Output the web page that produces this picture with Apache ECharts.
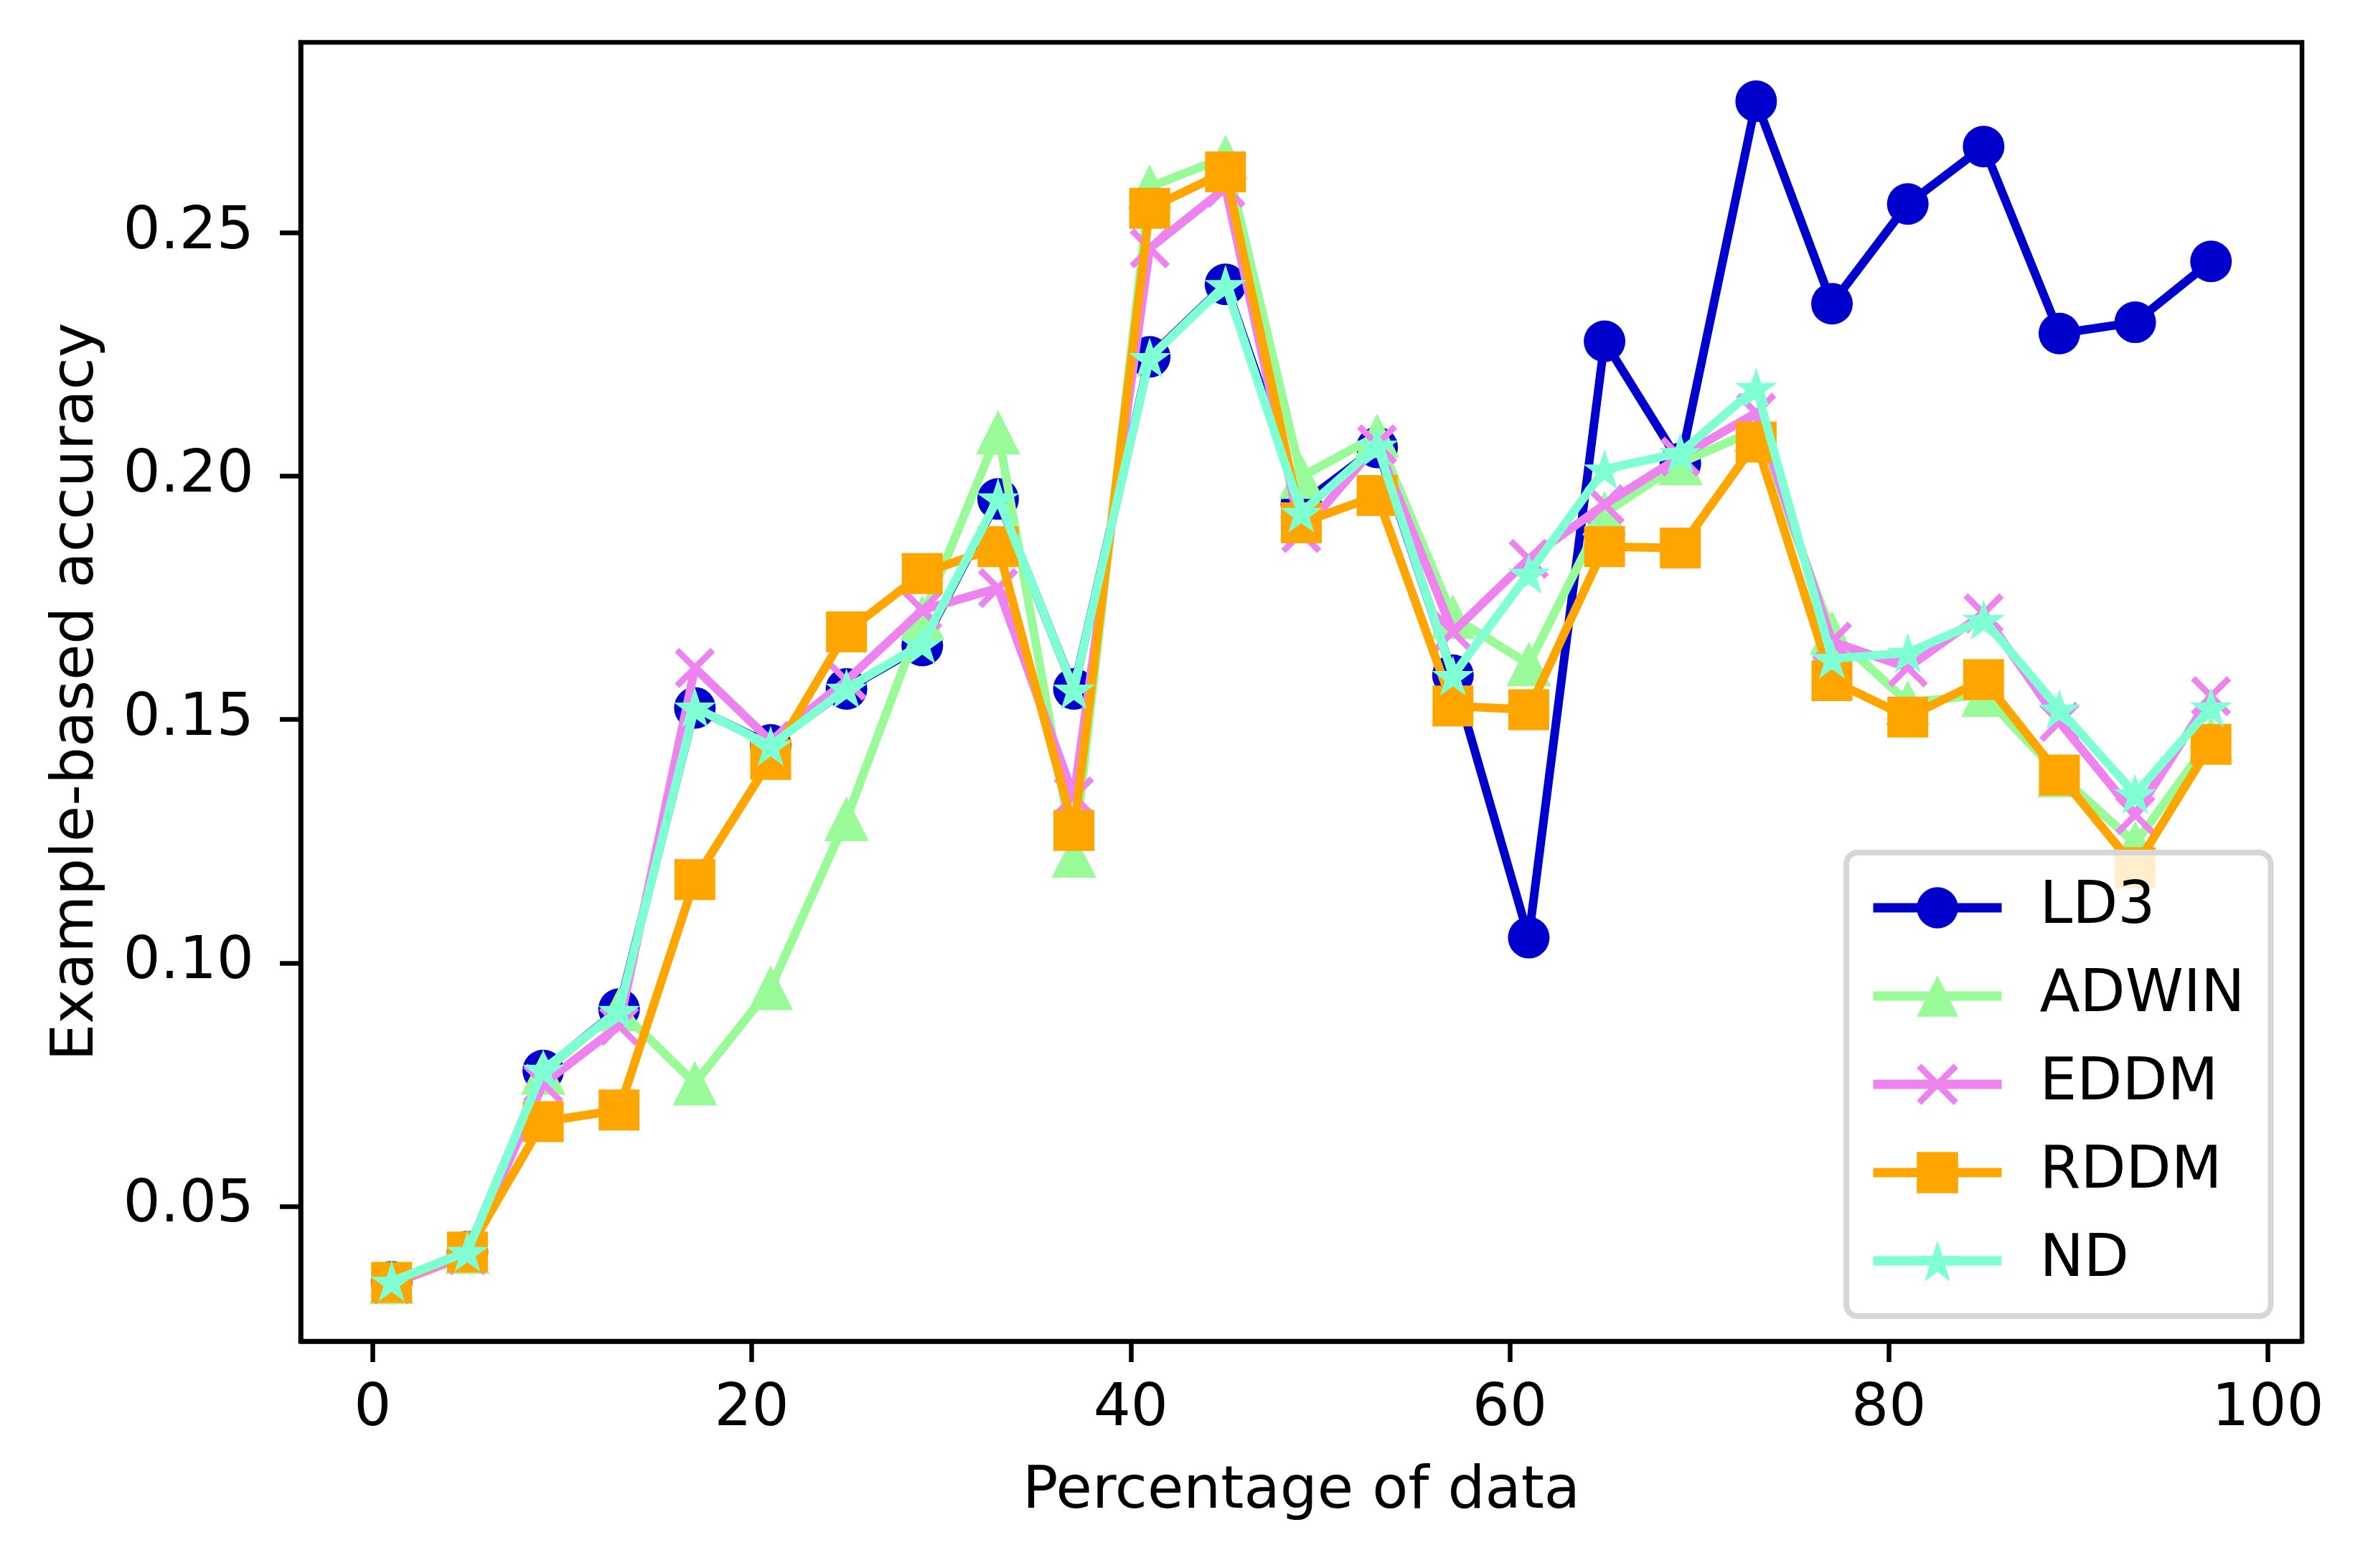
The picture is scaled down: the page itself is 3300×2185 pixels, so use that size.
<!DOCTYPE html>
<html>
<head>
<meta charset="utf-8">
<script src="https://cdn.jsdelivr.net/npm/echarts@6/dist/echarts.min.js"></script>
<style>
html,body{margin:0;padding:0;background:#fff;}
#chart{width:3300px;height:2185px;}
</style>
</head>
<body>
<div id="chart"></div>
<script>
// Percentage of data (x positions)
const percentages = [1, 5, 9, 13, 17, 21, 25, 29, 33, 37, 41, 45, 49, 53, 57, 61, 65, 69, 73, 77, 81, 85, 89, 93, 97];

// Example-based accuracy per method
const ld3   = [0.0345, 0.0407, 0.0779, 0.0905, 0.1524, 0.1448, 0.1563, 0.1652, 0.1953, 0.1563, 0.2245, 0.2394, 0.1942, 0.2059, 0.1591, 0.1052, 0.2277, 0.2026, 0.2770, 0.2354, 0.2559, 0.2677, 0.2293, 0.2316, 0.2441];
const adwin = [0.0345, 0.0407, 0.0775, 0.0905, 0.0753, 0.0949, 0.1296, 0.1710, 0.2090, 0.1221, 0.2594, 0.2655, 0.1999, 0.2083, 0.1711, 0.1614, 0.1924, 0.2027, 0.2095, 0.1678, 0.1535, 0.1551, 0.1386, 0.1246, 0.1460];
const eddm  = [0.0340, 0.0400, 0.0752, 0.0871, 0.1606, 0.1456, 0.1580, 0.1725, 0.1770, 0.1342, 0.2468, 0.2592, 0.1883, 0.2065, 0.1680, 0.1830, 0.1942, 0.2040, 0.2130, 0.1660, 0.1607, 0.1718, 0.1495, 0.1304, 0.1548];
const rddm  = [0.0344, 0.0406, 0.0674, 0.0698, 0.1171, 0.1418, 0.1680, 0.1800, 0.1855, 0.1272, 0.2550, 0.2625, 0.1904, 0.1960, 0.1528, 0.1520, 0.1855, 0.1852, 0.2070, 0.1580, 0.1505, 0.1582, 0.1386, 0.1196, 0.1449];
const nd    = [0.0346, 0.0407, 0.0781, 0.0902, 0.1525, 0.1446, 0.1564, 0.1655, 0.1955, 0.1562, 0.2243, 0.2393, 0.1925, 0.2063, 0.1590, 0.1800, 0.2014, 0.2048, 0.2182, 0.1625, 0.1637, 0.1705, 0.1521, 0.1347, 0.1525];

const seriesNames = ['LD3', 'ADWIN', 'EDDM', 'RDDM', 'ND'];

// Tick labels
const xTicks = [0, 20, 40, 60, 80, 100];
const yTicks = [0.05, 0.10, 0.15, 0.20, 0.25];

const FONT = 'DejaVu Sans';
const FS = 82;

const xPath = 'path://M0,11 L11,0 L100,89 L89,100 Z M89,0 L100,11 L11,100 L0,89 Z';
const starPath = 'path://M50,0 L61.23,34.55 L97.55,34.55 L68.16,55.9 L79.39,90.45 L50,69.1 L20.61,90.45 L31.84,55.9 L2.45,34.55 L38.77,34.55 Z';

function pairs(vals) { return percentages.map((x, i) => [x, vals[i]]); }

const styles = [
  {data: ld3,   color: '#0000CD', symbol: 'circle',   size: 58},
  {data: adwin, color: '#98FB98', symbol: 'triangle', size: 62},
  {data: eddm,  color: '#EE82EE', symbol: xPath,      size: 56},
  {data: rddm,  color: '#FFA500', symbol: 'rect',     size: 57},
  {data: nd,    color: '#7FFFD4', symbol: starPath,   size: [59, 56]}
];

const chart = echarts.init(document.getElementById('chart'), null, {renderer: 'canvas'});
chart.setOption({
  animation: false,
  backgroundColor: '#fff',
  textStyle: {fontFamily: FONT},
  grid: {
    left: 419, right: 92, top: 59, bottom: 316,
    show: true, borderColor: '#000', borderWidth: 6.5,
    backgroundColor: 'transparent',
    containLabel: false,
    outerBoundsMode: 'none'
  },
  xAxis: {
    type: 'value', min: -3.8, max: 101.8,
    name: 'Percentage of data', nameLocation: 'middle', nameGap: 170,
    nameTextStyle: {fontFamily: FONT, fontSize: FS, color: '#000', lineHeight: FS},
    axisLine: {show: true, onZero: false, lineStyle: {color: '#000', width: 6.5}},
    axisTick: {show: true, length: 29, lineStyle: {color: '#000', width: 6.5}, customValues: xTicks},
    axisLabel: {show: true, margin: 55, fontFamily: FONT, fontSize: FS, color: '#000', lineHeight: FS,
      customValues: xTicks, formatter: v => String(Math.round(v))},
    splitLine: {show: false}
  },
  yAxis: {
    type: 'value', min: 0.0223, max: 0.2891,
    name: 'Example-based accuracy', nameLocation: 'middle', nameGap: 270,
    nameTextStyle: {fontFamily: FONT, fontSize: FS, color: '#000', lineHeight: FS},
    axisLine: {show: true, onZero: false, lineStyle: {color: '#000', width: 6.5}},
    axisTick: {show: true, length: 29, lineStyle: {color: '#000', width: 6.5}, customValues: yTicks},
    axisLabel: {show: true, margin: 65, fontFamily: FONT, fontSize: FS, color: '#000', lineHeight: FS,
      customValues: yTicks, formatter: v => v.toFixed(2)},
    splitLine: {show: false}
  },
  legend: {
    orient: 'vertical',
    left: 2573, top: 1188,
    z: 20,
    data: seriesNames,
    itemWidth: 179, itemHeight: 72, itemGap: 41,
    padding: [36, 36, 36, 31],
    backgroundColor: 'rgba(255,255,255,0.8)',
    borderColor: '#d6d6d6', borderWidth: 8, borderRadius: 16,
    lineStyle: {width: 13},
    textStyle: {fontFamily: FONT, fontSize: FS, color: '#000', lineHeight: FS, padding: [0, 0, 0, 48]},
    selectedMode: false
  },
  series: styles.map((s, i) => ({
    name: seriesNames[i],
    type: 'line',
    z: 2 + i,
    data: pairs(s.data),
    symbol: s.symbol,
    symbolSize: s.size,
    showSymbol: true,
    showAllSymbol: true,
    symbolKeepAspect: false,
    clip: false,
    color: s.color,
    lineStyle: {color: s.color, width: 12},
    itemStyle: {color: s.color, borderWidth: 0},
    emphasis: {disabled: true}
  }))
});
</script>
</body>
</html>
